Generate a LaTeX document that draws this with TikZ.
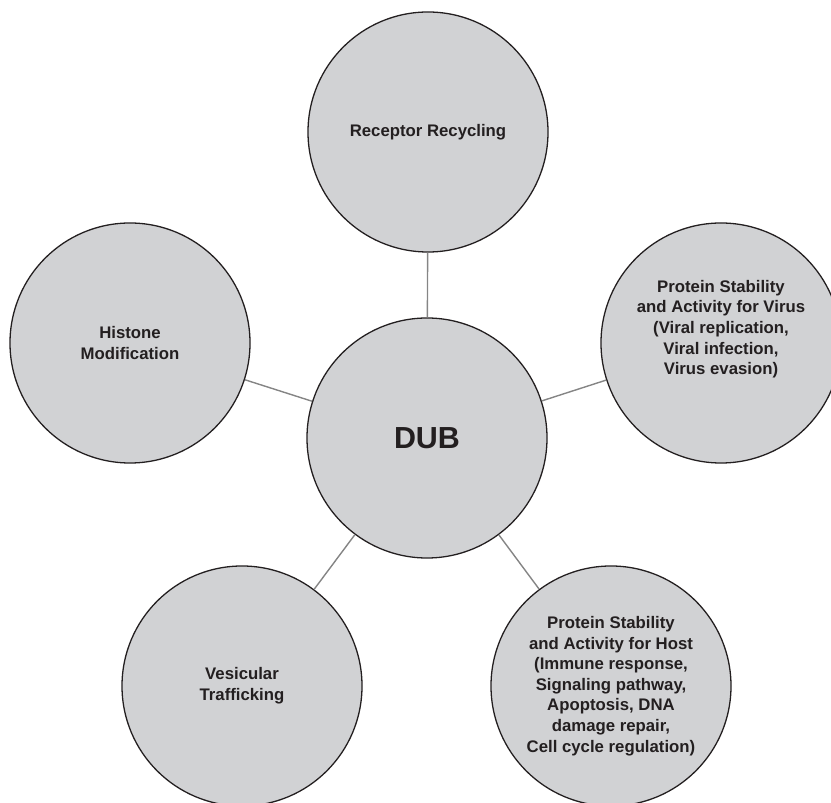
\documentclass[tikz,border=0pt]{standalone}
\usepackage{fontspec}
\setmainfont{Liberation Sans}
\usepackage{tikz}
\usetikzlibrary{calc}

\definecolor{bubblegray}{HTML}{D1D2D4}
\definecolor{inkdark}{HTML}{231F20}
\definecolor{linkgray}{HTML}{858585}

\tikzset{
  bubble/.style = {circle, draw = inkdark, line width = 1.1pt, fill = bubblegray,
                   minimum size = 7.2cm, inner sep = 0pt, align = center,
                   text = inkdark, font = \fontsize{14.3}{17.6}\selectfont\bfseries},
  link/.style = {linkgray, line width = 1.2pt}
}

\begin{document}
\begin{tikzpicture}[x = 0.03cm, y = 0.03cm]
    \useasboundingbox (0,0) rectangle (831,802);
    \clip (0,0) rectangle (831,802);

    \node[bubble] (dub) at (427,364) {\fontsize{26}{30}\selectfont\bfseries DUB};

    \node[bubble] (rec) at (428,670) {Receptor Recycling};
    \node[bubble] (his) at (130,459) {Histone\\Modification};
    \node[bubble] (vir) at (721,459) {Protein Stability\\and Activity for Virus\\(Viral replication,\\Viral infection,\\Virus evasion)\\[9pt]};
    \node[bubble] (ves) at (242,116) {Vesicular\\Trafficking};
    \node[bubble] (hst) at (611,116) {Protein Stability\\and Activity for Host\\(Immune response,\\Signaling pathway,\\Apoptosis, DNA\\damage repair,\\Cell cycle regulation)};

    % spokes from the centre
    \foreach \n in {rec, his, vir, ves, hst}
    {
     \draw[link] (dub) -- (\n);
    }
\end{tikzpicture}
\end{document}
